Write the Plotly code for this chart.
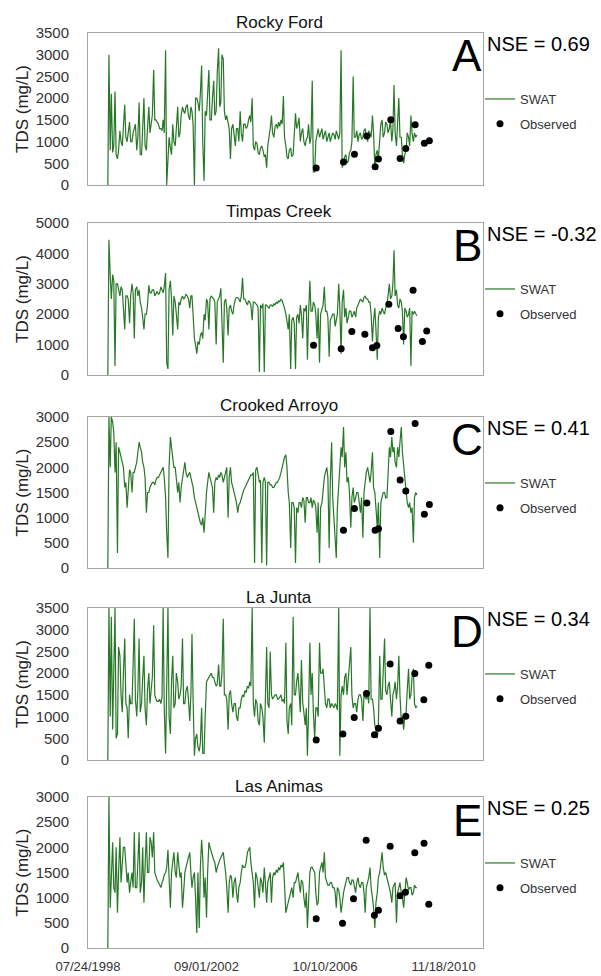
import pandas as pd
import plotly.graph_objects as go

W, H = 601, 976

# ---------------- data ----------------
# SWAT simulated TDS, read twice a month (1st and 15th), Apr 1999 - Dec 2009
swat_dates = pd.date_range("1999-04-01", periods=258, freq="SMS")

station_names = ["Rocky Ford", "Timpas Creek", "Crooked Arroyo", "La Junta", "Las Animas"]
panel_letters = ["A", "B", "C", "D", "E"]
nse_values = ["0.69", "-0.32", "0.41", "0.34", "0.25"]
y_max = [3500, 5000, 3000, 3500, 3000]
y_step = [500, 1000, 500, 500, 500]

x_tick_vals = ["1998-07-24", "2002-09-01", "2006-10-10", "2010-11-18"]
x_tick_text = ["07/24/1998", "09/01/2002", "10/10/2006", "11/18/2010"]
x_range = ["1998-07-24", "2012-03-31"]

swat_rocky_ford = [
    0, 3000, 800, 2100, 750, 900, 2150, 700, 600, 800, 1250, 1000, 900, 1300, 1850, 1100, 1000, 1200, 1450, 1000,
    1000, 1200, 1350, 1400, 800, 1100, 1900, 700, 700, 1300, 2000, 900, 800, 1300, 1800, 1200, 1400, 1600, 2650, 1500,
    1500, 1450, 1400, 1300, 1300, 1250, 1500, 1200, 3100, 0, 800, 1100, 850, 700, 1400, 1000, 900, 1300, 1800, 1100,
    1200, 1600, 1800, 1700, 1650, 1800, 1850, 1600, 1500, 1800, 1700, 1400, 0, 2000, 2000, 1900, 1700, 2100, 2750, 1000,
    100, 1700, 1600, 2100, 2650, 1500, 1500, 2000, 2400, 1600, 1700, 2600, 3150, 1800, 1900, 3000, 2900, 1700, 1500, 1600,
    1400, 1300, 600, 1300, 1400, 1100, 900, 1300, 1300, 1000, 1700, 1200, 1000, 1400, 1400, 1300, 1350, 1500, 1600, 1450,
    2000, 900, 800, 1000, 950, 750, 700, 850, 900, 800, 650, 700, 400, 900, 1100, 1300, 1600, 1200, 1100, 1350,
    1400, 1300, 1450, 1350, 1500, 1400, 2050, 1100, 900, 650, 600, 800, 850, 650, 700, 1100, 1650, 1300, 1400, 1550,
    1000, 1200, 1300, 1000, 900, 1050, 1100, 1400, 950, 1100, 2400, 300, 300, 1000, 1200, 1300, 1100, 1200, 1300, 1050,
    1150, 1250, 1000, 1100, 1200, 1000, 1100, 1200, 1150, 1050, 1250, 1150, 1050, 1200, 3100, 400, 500, 650, 700, 500,
    550, 750, 800, 1000, 2500, 1100, 1100, 1250, 1000, 1150, 1200, 1050, 1100, 1250, 1300, 1150, 1000, 1250, 1200, 1100,
    1600, 1200, 400, 700, 800, 600, 1000, 1400, 1500, 1100, 1200, 1450, 1400, 1200, 1300, 1500, 1000, 1300, 2300, 1200,
    900, 1300, 2000, 1100, 1100, 700, 500, 700, 800, 1200, 1100, 900, 1600, 1200, 1000, 1200, 1100, 1150]
swat_timpas_creek = [
    0, 4450, 3300, 2500, 3300, 3100, 300, 3000, 3000, 2800, 2600, 2900, 2800, 2200, 1500, 2600, 2600, 2500, 1700, 2600,
    3000, 2700, 1200, 2800, 2900, 2600, 2800, 2400, 2200, 1900, 1500, 2000, 2000, 2300, 2950, 2700, 2700, 2800, 2800, 2600,
    2700, 2750, 2650, 2700, 2900, 2750, 2700, 2900, 3350, 400, 200, 2800, 3100, 2500, 1300, 2600, 2400, 2000, 1500, 2400,
    2300, 2500, 2600, 2500, 2550, 2650, 2600, 2500, 2200, 2600, 2600, 2000, 1200, 1000, 700, 1100, 1000, 1300, 1400, 1200,
    2000, 1800, 2500, 2400, 1500, 2500, 2600, 2550, 2500, 2400, 1000, 2400, 2500, 2600, 2850, 1300, 400, 2400, 2500, 2200,
    1300, 2200, 2300, 2100, 2000, 2300, 2500, 2550, 2550, 2500, 2400, 2600, 3200, 2500, 2500, 2400, 2300, 2450, 2400, 2300,
    1800, 2400, 2400, 2350, 2300, 2200, 100, 2300, 2200, 2350, 100, 2300, 2300, 2250, 2200, 2300, 2300, 2250, 2350, 2300,
    2400, 2350, 2450, 2400, 2500, 2450, 2350, 2200, 2000, 1800, 1500, 2000, 200, 1800, 1900, 1700, 200, 1900, 2000, 1700,
    2300, 2000, 1200, 2200, 2100, 2300, 500, 2000, 3100, 2100, 2100, 2400, 2300, 2000, 1200, 2200, 400, 2000, 2200, 2300,
    2900, 2100, 2100, 1900, 600, 1800, 1900, 2000, 2000, 1600, 1800, 2000, 3000, 2200, 700, 2400, 2800, 1900, 2200, 1700,
    1900, 2100, 2100, 1900, 2000, 2100, 1900, 2200, 2300, 2400, 2500, 2450, 2400, 2550, 2600, 2500, 2500, 2400, 2400, 2000,
    1100, 1800, 2200, 1500, 500, 1900, 2100, 2000, 2200, 2100, 2000, 2200, 2300, 2600, 3000, 2500, 2600, 3000, 4100, 2600,
    2800, 2300, 2200, 2500, 2400, 2100, 1000, 2200, 2100, 1900, 2000, 2200, 300, 2100, 2000, 2100, 2000, 1950]
swat_crooked_arroyo = [
    0, 3000, 2000, 3000, 2900, 2700, 1900, 2500, 300, 2400, 2300, 2200, 2100, 2000, 1600, 1700, 1200, 1500, 1950, 1900,
    1500, 1900, 1900, 2000, 2100, 2300, 2500, 2400, 2300, 2100, 2000, 1800, 1100, 1500, 1500, 1600, 1650, 1700, 1700, 1650,
    1750, 1800, 1800, 1850, 1900, 1950, 2000, 1800, 1400, 700, 200, 2000, 2600, 2400, 2200, 2000, 2000, 1800, 1500, 1700,
    1300, 1600, 1800, 2000, 2100, 1900, 1800, 1850, 1900, 1800, 1700, 1600, 1400, 1300, 1200, 1100, 1000, 900, 850, 1000,
    700, 1100, 1500, 1700, 1900, 1800, 1700, 1600, 1100, 1700, 1800, 1750, 1850, 1800, 1900, 1850, 1700, 1800, 1900, 2000,
    1000, 1800, 2000, 1700, 1600, 1500, 1400, 1300, 1100, 1250, 1300, 1400, 1500, 1550, 1600, 1650, 1700, 1750, 1800, 1850,
    1850, 1900, 100, 1950, 2000, 1800, 1700, 1750, 100, 1700, 1800, 1700, 50, 1700, 1700, 1650, 1650, 1600, 1600, 1650,
    1700, 1700, 1750, 1800, 1900, 2000, 2100, 2200, 2250, 2000, 1500, 1300, 400, 1300, 1300, 1200, 100, 1200, 1100, 1300,
    1300, 1200, 1400, 1350, 900, 1400, 1400, 1300, 1300, 1400, 1200, 1350, 1300, 1200, 700, 1300, 100, 1200, 1300, 1600,
    1800, 1900, 2000, 1800, 400, 1700, 2500, 1400, 1000, 600, 200, 1200, 1800, 2000, 2400, 2200, 2800, 2000, 2300, 1700,
    1800, 1500, 800, 1400, 1600, 1300, 1400, 1500, 1500, 1350, 1100, 1400, 600, 1500, 1800, 1900, 2000, 1800, 1700, 1900,
    2300, 1600, 1500, 1200, 800, 1300, 200, 1300, 1400, 1500, 1500, 1400, 1400, 1900, 2400, 2200, 2600, 2300, 2400, 2100,
    2000, 2400, 2200, 2500, 2800, 2300, 2000, 1800, 1500, 1300, 1200, 1300, 1100, 1200, 500, 1400, 1500, 1450]
swat_la_junta = [
    0, 3500, 1000, 3300, 700, 1800, 3500, 500, 600, 2600, 2400, 1500, 1100, 2000, 2800, 1300, 1200, 500, 1500, 1300,
    1300, 2200, 3250, 1400, 1000, 1600, 2800, 1100, 1300, 1900, 2400, 1200, 800, 1600, 2000, 1300, 1700, 1900, 3100, 1500,
    1400, 1350, 1350, 1400, 1300, 1450, 3500, 1200, 150, 1500, 3500, 1000, 600, 1800, 2400, 1200, 1300, 2000, 1800, 1400,
    1500, 1700, 2800, 1300, 1300, 1600, 1700, 1400, 900, 1500, 2900, 1400, 100, 500, 600, 300, 200, 400, 1200, 150,
    150, 1000, 1800, 1850, 1900, 1950, 2000, 1900, 1900, 1800, 1700, 1750, 2200, 1700, 1700, 2000, 3250, 1500, 1500, 1400,
    700, 1500, 1600, 1300, 1100, 1300, 1300, 1000, 900, 1200, 1200, 1400, 1500, 1450, 1600, 1550, 1700, 1650, 1800, 1700,
    3500, 1300, 1000, 1400, 1300, 900, 800, 1300, 1200, 1000, 400, 1400, 2600, 1300, 1200, 2500, 1500, 1400, 1450, 1500,
    1500, 1400, 1400, 1450, 1500, 1350, 1400, 1300, 2700, 900, 600, 1200, 1300, 800, 3300, 1500, 1500, 1800, 2000, 1600,
    1100, 2300, 1300, 1100, 800, 1200, 100, 1100, 2700, 1500, 2000, 1100, 500, 1200, 1200, 1000, 2700, 2000, 2000, 2100,
    1500, 1300, 1200, 1400, 1400, 1200, 1300, 1250, 1200, 1300, 1250, 1150, 3500, 100, 1500, 1700, 1500, 1900, 2000, 1500,
    1800, 2200, 2600, 1500, 1200, 1300, 1300, 1100, 1400, 1500, 1500, 1400, 900, 1500, 1450, 1400, 1500, 1300, 3500, 1400,
    1400, 1200, 800, 700, 500, 800, 2400, 1400, 1400, 1900, 2800, 1600, 1500, 1700, 1800, 1400, 1000, 1500, 1600, 1800,
    1400, 1700, 2400, 1500, 900, 1000, 700, 1000, 1100, 1600, 2100, 1400, 1500, 1900, 2100, 1300, 1200, 1250]
swat_las_animas = [
    0, 3000, 800, 1500, 2100, 1200, 1100, 2000, 700, 1500, 2200, 1300, 1700, 2000, 2000, 1600, 1300, 1500, 1100, 1300,
    1500, 1200, 2300, 1200, 1200, 1700, 2300, 1100, 1300, 2000, 900, 1600, 2300, 1500, 1500, 2200, 2100, 1800, 2300, 1500,
    1400, 1350, 1300, 1250, 1200, 1300, 1350, 1450, 1500, 1600, 1950, 1400, 800, 1500, 1800, 1900, 1500, 1400, 1900, 1600,
    1400, 1500, 800, 1100, 1500, 1600, 1700, 1800, 1900, 1500, 1200, 1400, 1500, 1000, 300, 1500, 400, 1600, 2150, 1800,
    1000, 1400, 600, 1500, 2100, 2000, 1900, 1850, 1750, 1700, 1500, 1600, 1700, 1750, 1800, 1850, 1900, 1700, 1500, 1200,
    700, 1300, 1450, 1400, 1000, 1300, 1400, 1100, 900, 1200, 1300, 1500, 1650, 1600, 1600, 1700, 1900, 1950, 2000, 1700,
    1500, 1300, 800, 1500, 1400, 1200, 1000, 1400, 1300, 1100, 1600, 1300, 900, 1300, 1400, 1500, 900, 1400, 1500, 1450,
    1550, 1500, 1600, 1550, 1650, 1600, 1700, 1200, 700, 800, 900, 1000, 1100, 1200, 1000, 1300, 1300, 1400, 1500, 1300,
    1100, 1350, 1300, 1000, 800, 1100, 400, 900, 1500, 1600, 1600, 1550, 1500, 1100, 850, 900, 1500, 1600, 1700, 1500,
    1900, 1400, 1300, 1250, 1250, 1300, 1300, 1200, 1200, 1100, 800, 1200, 1150, 1000, 700, 900, 1100, 1200, 1300, 1400,
    1400, 1300, 1250, 1350, 1350, 1250, 1100, 1300, 1400, 1250, 1200, 1300, 1300, 1100, 700, 1200, 1300, 1400, 1600, 1200,
    1000, 800, 400, 900, 1100, 1400, 1500, 1700, 1900, 1600, 1450, 1500, 1400, 1300, 1200, 1100, 900, 1200, 1250, 1300,
    500, 1100, 1200, 1300, 1100, 1000, 800, 1100, 1400, 1300, 1150, 1200, 1200, 1050, 1100, 1250, 1200, 1200]

obs_rocky_ford_dates = ["2006-06-20", "2007-05-31", "2007-10-17", "2008-03-22", "2008-07-05", "2008-08-16",
                        "2009-01-19", "2009-05-17", "2009-07-28", "2009-11-23", "2010-03-20", "2010-05-22"]
obs_rocky_ford = [390, 530, 710, 1130, 420, 600, 1500, 610, 840, 1390, 960, 1020]

obs_timpas_creek_dates = ["2006-05-17", "2007-05-02", "2007-09-14", "2008-02-26", "2008-06-01", "2008-07-26",
                          "2008-12-25", "2009-04-22", "2009-06-28", "2009-10-28", "2010-02-23", "2010-04-19"]
obs_timpas_creek = [980, 860, 1430, 1340, 900, 970, 2330, 1530, 1260, 2790, 1100, 1450]

obs_crooked_arroyo_dates = ["2007-05-31", "2007-10-17", "2008-03-22", "2008-07-05", "2008-08-16",
                            "2009-01-19", "2009-05-17", "2009-07-28", "2009-11-23", "2010-03-20", "2010-05-22"]
obs_crooked_arroyo = [750, 1180, 1290, 750, 780, 2710, 1750, 1530, 2870, 1070, 1260]

obs_la_junta_dates = ["2006-06-20", "2007-05-24", "2007-10-14", "2008-03-17", "2008-06-26", "2008-08-16",
                      "2009-01-11", "2009-05-17", "2009-07-28", "2009-11-19", "2010-03-13", "2010-05-15"]
obs_la_junta = [460, 600, 980, 1530, 580, 730, 2210, 900, 1010, 1990, 1390, 2180]

obs_las_animas_dates = ["2006-06-20", "2007-05-19", "2007-10-05", "2008-03-13", "2008-06-26", "2008-08-16",
                        "2009-01-11", "2009-05-17", "2009-07-23", "2009-11-19", "2010-03-16", "2010-05-15"]
obs_las_animas = [580, 490, 980, 2140, 650, 750, 2020, 1040, 1110, 1890, 2080, 870]

swat_series = [swat_rocky_ford, swat_timpas_creek, swat_crooked_arroyo, swat_la_junta, swat_las_animas]
obs_dates = [obs_rocky_ford_dates, obs_timpas_creek_dates, obs_crooked_arroyo_dates, obs_la_junta_dates,
             obs_las_animas_dates]
obs_series = [obs_rocky_ford, obs_timpas_creek, obs_crooked_arroyo, obs_la_junta, obs_las_animas]

# ---------------- layout geometry (pixels) ----------------
plot_left, plot_right = 88, 483
panel_tops = [33, 223, 417, 608, 797]
panel_bottoms = [185, 375, 568, 760, 948]


def px(x):
    return x / W


def py(y):
    return 1 - y / H


FONT = "Liberation Sans, Arial, sans-serif"
LINE_COLOR = "rgba(0,95,0,0.85)"
FRAME = "#a6a6a6"

fig = go.Figure()
layout = dict(
    width=W, height=H,
    margin=dict(l=0, r=0, t=0, b=0, autoexpand=False),
    paper_bgcolor="white", plot_bgcolor="white",
    showlegend=True,
    annotations=[],
)

for i in range(5):
    k = "" if i == 0 else str(i + 1)
    lg = "legend" + k
    fig.add_trace(go.Scatter(
        x=swat_dates, y=swat_series[i], mode="lines", name="SWAT",
        line=dict(color=LINE_COLOR, width=1.2), xaxis="x" + k, yaxis="y" + k,
        legend=lg, legendgroup="swat%d" % i))
    fig.add_trace(go.Scatter(
        x=obs_dates[i], y=obs_series[i], mode="markers", name="Observed",
        marker=dict(color="black", size=7), xaxis="x" + k, yaxis="y" + k,
        legend=lg, legendgroup="obs%d" % i))

    top, bot = panel_tops[i], panel_bottoms[i]
    layout["xaxis" + k] = dict(
        domain=[px(plot_left), px(plot_right)], anchor="y" + k, type="date",
        range=x_range, showgrid=False, zeroline=False,
        showline=True, mirror=True, linecolor=FRAME, linewidth=1,
        ticks="", tickvals=x_tick_vals, ticktext=x_tick_text,
        showticklabels=(i == 4), ticklabelstandoff=6,
        tickfont=dict(family=FONT, size=13, color="#333333"))
    layout["yaxis" + k] = dict(
        domain=[py(bot), py(top)], anchor="x" + k,
        range=[0, y_max[i]], dtick=y_step[i], tick0=0,
        showgrid=False, zeroline=False,
        showline=True, mirror=True, linecolor=FRAME, linewidth=1,
        ticks="", ticklabelstandoff=15,
        tickfont=dict(family=FONT, size=15, color="#333333"))
    layout[lg] = dict(
        x=px(480), y=py(top + 51), xanchor="left", yanchor="top",
        bgcolor="rgba(0,0,0,0)", borderwidth=0, tracegroupgap=5,
        itemwidth=30, font=dict(family=FONT, size=13, color="#333333"))

    ann = layout["annotations"]
    ann.append(dict(text=station_names[i], x=px(279), y=py(top - 11), xref="paper", yref="paper",
                    xanchor="center", yanchor="middle", showarrow=False,
                    font=dict(family=FONT, size=17, color="#111111")))
    ann.append(dict(text=panel_letters[i], x=px(467), y=py(top + 23), xref="paper", yref="paper",
                    xanchor="center", yanchor="middle", showarrow=False,
                    font=dict(family=FONT, size=44, color="#000000")))
    ann.append(dict(text="NSE = " + nse_values[i], x=px(485), y=py(top + 11), xref="paper", yref="paper",
                    xanchor="left", yanchor="middle", showarrow=False,
                    font=dict(family=FONT, size=20, color="#000000")))
    ann.append(dict(text="TDS (mg/L)", x=px(22), y=py((top + bot) / 2), xref="paper", yref="paper",
                    xanchor="center", yanchor="middle", textangle=-90, showarrow=False,
                    font=dict(family=FONT, size=17, color="#222222")))

fig.update_layout(**layout)
fig.write_html("out.html")
